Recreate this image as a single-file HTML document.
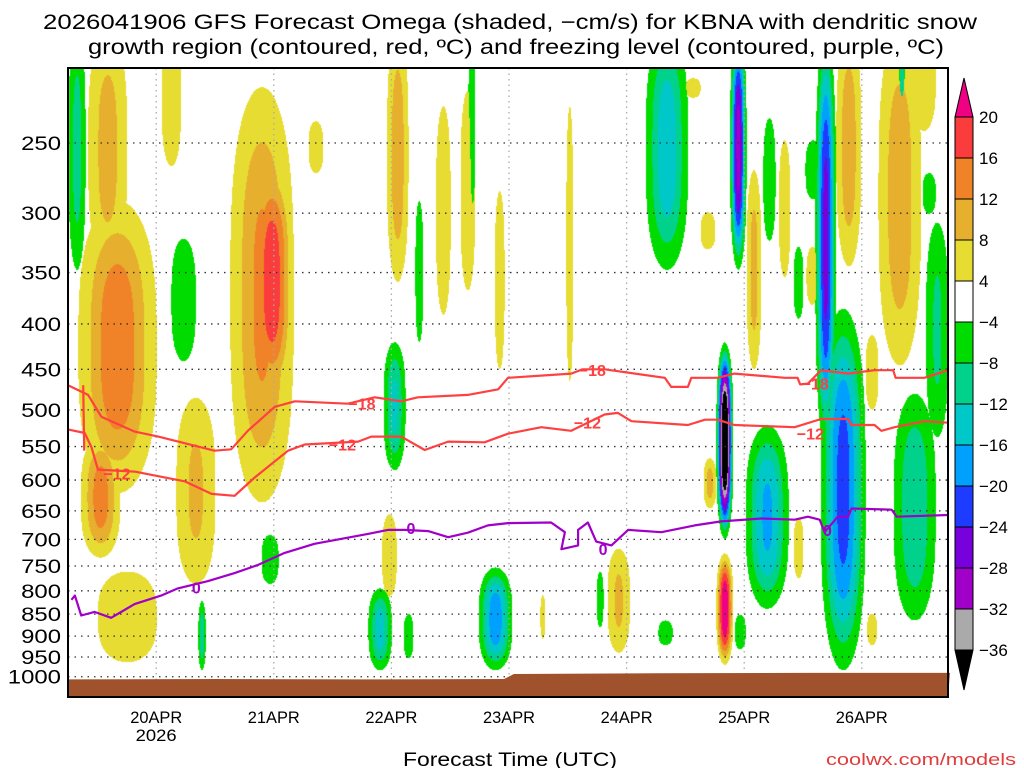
<!DOCTYPE html>
<html><head><meta charset="utf-8">
<style>
body{margin:0;background:#fff;width:1024px;height:768px;overflow:hidden;position:relative;font-family:"Liberation Sans",sans-serif}
#field{position:absolute;left:68px;top:68px}
#chart{position:absolute;left:0;top:0}
</style></head>
<body>
<canvas id="field" width="880" height="629"></canvas>
<svg id="chart" width="1024" height="768" xmlns="http://www.w3.org/2000/svg">
  <g id="grid"></g>
  <g id="ground"></g>
  <g id="contours"></g>
  <rect x="68" y="68" width="880" height="629" fill="none" stroke="#000" stroke-width="2"/>
  <g id="axes"></g>
  <g id="cbar"></g>
  <text x="510" y="29" font-size="21" text-anchor="middle" textLength="934" lengthAdjust="spacingAndGlyphs" fill="#000">2026041906 GFS Forecast Omega (shaded, −cm/s) for KBNA with dendritic snow</text>
  <text x="516" y="54" font-size="21" text-anchor="middle" textLength="856" lengthAdjust="spacingAndGlyphs" fill="#000">growth region (contoured, red, ºC) and freezing level (contoured, purple, ºC)</text>
  <text x="510" y="766" font-size="19" text-anchor="middle" textLength="214" lengthAdjust="spacingAndGlyphs" fill="#000">Forecast Time (UTC)</text>
  <text x="1016" y="765" font-size="17" text-anchor="end" textLength="190" lengthAdjust="spacingAndGlyphs" fill="#e03c3c">coolwx.com/models</text>
</svg>
<script>
// ---- data ----
const blobStart =[4,2,2.5,6,22,33,37,65,64,75,80,87,101.6,129,138.4,145,150.6,132.2,129.6,156.7,162.7,165.3,148,163,110,96.3,126,172,19,49,
  21,39.4,26.5,64.3,61.2,68.4,70.8,81.6,83.7,117.8,135,132.2,141.8,148,150.4,138.2,152.4,153.5,168.4,175,168.9,174.3,107.8,120.4,136,0];
const blobEnd   =[12,18,10.6,18,30,46,46,69.4,67,78,83,89,103,132,141.4,147.3,153,135.7,132.2,161.8,165.3,174,150,165,114.6,97.3,129,177,23,52,
  26,42.9,28,68.8,66,70.4,72.4,83,90.6,126.5,138.4,135.7,144.3,150,153.5,147,156.7,162.7,177,179.6,171.2,177,109.2,123.3,138.2,3.5];
const blobTop   =[185,290,535,760,484,216,262,185,655,227,218,283,227,299,268,248,327,725,566,185,411,185,661,848,716,808,211,185,185,236,
  320,691,820,419,794,849,290,185,752,185,185,419,234,327,248,520,185,384,479,307,185,270,760,863,850,185];
const blobBottom=[347,620,733,962,785,635,488,358,811,390,366,449,464,329,449,354,380,968,645,344,499,445,773,920,938,905,222,242,265,270,
  440,785,982,584,982,952,419,315,982,347,347,698,322,394,289,837,554,982,863,536,242,300,878,920,930,347];
const blobPeak  =[10,15,14,6,9,13,19,11,7,6,6,6,6,6,10,6,6,24,10,11,6,11,6,6,9,6,6,8,6,6,
  -7,-7,-11,-13,-14,-6,-6,-6,-19,-15,-30,-44,-6,-6,-6,-17,-26,-22,-12,-9,-9,-6,-6,-6,-6,-10];

const t18Hours=[0,4.1,6.8,13.6,18.4,29.9,33.3,36.7,42.2,46.3,57.1,62.6,68,71.4,81.6,87.8,89.8,102.7,105,109.5,121.8,123.1,126.5,127.2,132.6,136,146.3,148.9,149.4,151,153.7,159.2,164.6,168.4,168.9,174.8,179.6];
const t18Press=[469,481,509,529,536,556,554,528,496,489,492,484,489,484,481,474,460,455,450,450,460,471,471,460,460,455,460,460,468,467,451,455,451,451,460,460,451];
const t12Hours=[0,3.4,4.8,6.1,13.6,23.8,29.3,34,38.1,44.9,48.3,59.2,61.9,68,72.8,77.6,85,89.8,96.6,102.7,109.5,112.2,115,126.5,130,132.6,136,148.3,153.7,159.2,159.9,164.6,166,168.7,174.8,179.6];
const t12Press=[526,531,551,584,587,602,622,625,596,556,547,543,536,536,555,543,544,532,523,528,506,504,515,520,513,513,520,523,512,512,520,520,528,523,515,517];
const t12bHours=[3.1,3.3];
const t12bPress=[469,556];
const t0Hours=[0.7,1.4,2.7,5.4,8.8,13.6,19,22.4,28.6,34,38.8,44.2,50.3,61.2,65.3,68.7,73.5,77.6,81.6,85.7,89.8,98.6,101.4,100.7,104.1,104.1,106.1,107.8,110.9,114.3,121.1,127.9,133.3,141.5,148.3,151,153.4,154.4,157.1,159.2,159.9,168.1,169.1,179.6];
const t0Press=[819,810,853,845,858,828,810,795,780,764,748,725,708,690,683,683,685,696,688,675,671,670,687,718,711,683,670,704,711,683,687,675,668,663,665,660,665,687,660,660,646,648,660,657];
const redLabelHours=[10,60,56,107,106,152.5,151.5];
const redLabelPress=[590,492,547,451,517,467,532];
const redLabelText=['−12','−18','−12','−18','−12','−18','−12'];
const purpleLabelHours=[26.2,70,109.2,155];
const purpleLabelPress=[793,680,718,683];
const groundHours=[0,30,60,89,91,120,150,180];
const groundPress=[1007,1006,1007,1006,993,991,990,990];
const pressTicks=[250,300,350,400,450,500,550,600,650,700,750,800,850,900,950,1000];
const dayHours=[18,42,66,90,114,138,162];
const dayLabels=['20APR','21APR','22APR','23APR','24APR','25APR','26APR'];
const cbarValues=[20,16,12,8,4,-4,-8,-12,-16,-20,-24,-28,-32,-36];
const cbarColors=['#fa3c3c','#f08228','#e6af2d','#e6dc32','#ffffff','#00dc00','#00d28c','#00c8c8','#00a0ff','#1e3cff','#7800dc','#a000c8','#aaaaaa'];

// ---- scales ----
function X(h){return 68+h*4.9;}
function Y(p){return 143+385*Math.log(p/250);}
const NS='http://www.w3.org/2000/svg';
function mk(tag,attrs,parent){const e=document.createElementNS(NS,tag);for(const k in attrs)e.setAttribute(k,attrs[k]);parent.appendChild(e);return e;}

// ---- shading ----
function colorFor(v){
  if(v>=20)return[240,0,130];
  if(v>=16)return[250,60,60];
  if(v>=12)return[240,130,40];
  if(v>=8)return[230,175,45];
  if(v>=4)return[230,220,50];
  if(v>-4)return null;
  if(v>-8)return[0,220,0];
  if(v>-12)return[0,210,140];
  if(v>-16)return[0,200,200];
  if(v>-20)return[0,160,255];
  if(v>-24)return[30,60,255];
  if(v>-28)return[120,0,220];
  if(v>-32)return[160,0,200];
  if(v>-36)return[170,170,170];
  return[0,0,0];
}
(function(){
  const cv=document.getElementById('field');const ctx=cv.getContext('2d');
  const W=880,H=629;const img=ctx.createImageData(W,H);const d=img.data;
  const B=blobPeak.map((pk,i)=>{const x0=X(blobStart[i]),x1=X(blobEnd[i]),y0=Y(blobTop[i]),y1=Y(blobBottom[i]);
    return{cx:(x0+x1)/2-68,rx:(x1-x0)/2,cy:(y0+y1)/2-68,ry:(y1-y0)/2,pk:pk};});
  for(let py=0;py<H;py++){for(let px=0;px<W;px++){
    let best=0;
    for(const b of B){const dx=(px-b.cx)/b.rx;if(dx>1||dx<-1)continue;const dy=(py-b.cy)/b.ry;if(dy>1||dy<-1)continue;
      const dy2=dy*dy;const d2=dx*dx+dy2*Math.sqrt(dy2);if(d2>=1)continue;
      const a=Math.abs(b.pk);const f=1-d2;const v=(4+(a-4)*Math.pow(f,1.6))*Math.sign(b.pk);
      if(Math.abs(v)>Math.abs(best))best=v;}
    const c=colorFor(best);const o=(py*W+px)*4;
    if(c){d[o]=c[0];d[o+1]=c[1];d[o+2]=c[2];}else{d[o]=255;d[o+1]=255;d[o+2]=255;}d[o+3]=255;
  }}
  ctx.putImageData(img,0,0);
})();

// ---- ground ----
(function(){
  const g=document.getElementById('ground');
  let pts=groundHours.map((h,i)=>X(h)+','+Y(groundPress[i]));
  pts.push('948,697','68,697');
  const poly=mk('polygon',{points:pts.join(' '),fill:'#a0522d'},g);
  
  
})();

// ---- grid & axes ----
(function(){
  const g=document.getElementById('grid');const a=document.getElementById('axes');
  pressTicks.forEach(p=>{
    const y=Y(p);
    const l=mk('line',{x1:68,x2:948,y1:y,y2:y,stroke:'#333','stroke-width':1.3,'stroke-dasharray':'1.5,5'},g);
    
    
    const t=mk('text',{x:61,y:y+7,'font-size':19,'text-anchor':'end',textLength:String(p).length*13.3,lengthAdjust:'spacingAndGlyphs',fill:'#000'},a);
    t.textContent=p;
    
    
  });
  dayHours.forEach((h,i)=>{
    const x=X(h);
    const l=mk('line',{x1:x,x2:x,y1:68,y2:697,stroke:'#aaa','stroke-width':1.3,'stroke-dasharray':'1.5,4'},g);
    
    
    const t=mk('text',{x:x,y:723,'font-size':17,'text-anchor':'middle',textLength:52,lengthAdjust:'spacingAndGlyphs',fill:'#000'},a);
    t.textContent=dayLabels[i];
    
    
  });
  const yr=mk('text',{x:X(dayHours[0]),y:741,'font-size':17,'text-anchor':'middle',textLength:41,lengthAdjust:'spacingAndGlyphs',fill:'#000'},a);
  yr.textContent='2026';
  
  
})();

// ---- contours ----
(function(){
  const g=document.getElementById('contours');
  function line(hs,ps,color,name){
    const d=hs.map((h,i)=>(i?'L':'M')+X(h).toFixed(1)+','+Y(ps[i]).toFixed(1)).join('');
    const p=mk('path',{d:d,fill:'none',stroke:color,'stroke-width':2.2,'stroke-linejoin':'round'},g);
    
    
  }
  line(t18Hours,t18Press,'#ff4040','contour-minus18');
  line(t12Hours,t12Press,'#ff4040','contour-minus12');
  line(t12bHours,t12bPress,'#ff4040','contour-minus12-segment');
  line(t0Hours,t0Press,'#a000c8','contour-freezing-level');
  redLabelHours.forEach((h,i)=>{
    const t=mk('text',{x:X(h),y:Y(redLabelPress[i])+6,'font-size':16,'font-weight':'bold','text-anchor':'middle',fill:'#ff4040'},g);
    t.textContent=redLabelText[i];
    
    
  });
  purpleLabelHours.forEach((h,i)=>{
    const t=mk('text',{x:X(h),y:Y(purpleLabelPress[i])+6,'font-size':16,'font-weight':'bold','text-anchor':'middle',fill:'#a000c8'},g);
    t.textContent='0';
    
    
  });
})();

// ---- colorbar ----
(function(){
  const g=document.getElementById('cbar');const x0=955,w=18,top=117,step=41;
  const up=mk('polygon',{points:`${x0},${top} ${x0+w},${top} ${x0+w/2},${top-39}`,fill:'#f00082',stroke:'#000','stroke-width':1},g);
  
  
  cbarColors.forEach((c,i)=>{
    const r=mk('rect',{x:x0,y:top+i*step,width:w,height:step,fill:c,stroke:'#000','stroke-width':1},g);
    
    
  });
  const yb=top+cbarColors.length*step;
  const dn=mk('polygon',{points:`${x0},${yb} ${x0+w},${yb} ${x0+w/2},${yb+40}`,fill:'#000',stroke:'#000','stroke-width':1},g);
  
  
  cbarValues.forEach((v,i)=>{
    const t=mk('text',{x:979,y:top+i*step+6,'font-size':17,fill:'#000'},g);
    t.textContent=v<0?'−'+Math.abs(v):String(v);
    
    
  });
})();
</script>
</body></html>
